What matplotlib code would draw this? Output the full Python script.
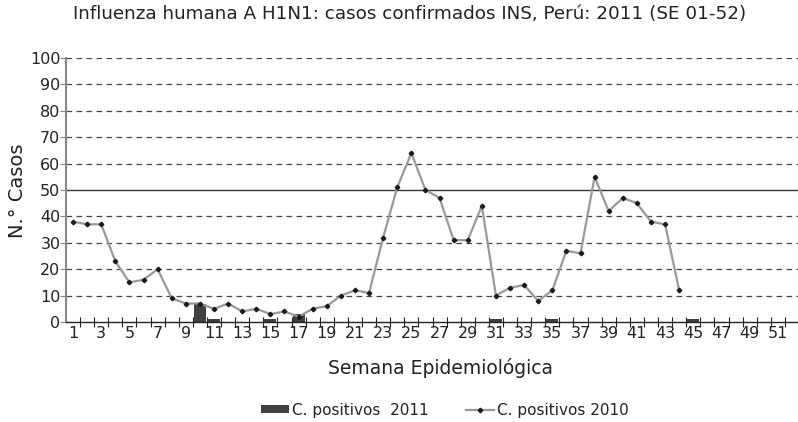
import matplotlib
matplotlib.use("Agg")
import matplotlib.pyplot as plt
import numpy as np

plt.rcParams['font.family'] = ['DejaVu Sans']

weeks = list(range(1, 53))
pos_2011 = [0, 0, 0, 0, 0, 0, 0, 0, 0, 7, 1, 0, 0, 0, 1, 0, 3, 0, 0, 0,
            0, 0, 0, 0, 0, 0, 0, 0, 0, 0, 1, 0, 0, 0, 1, 0, 0, 0, 0, 0,
            0, 0, 0, 0, 1, 0, 0, 0, 0, 0, 0, 0]
weeks_2010 = list(range(1, 45))
pos_2010 = [38, 37, 37, 23, 15, 16, 20, 9, 7, 7, 5, 7, 4, 5, 3, 4, 2, 5, 6, 10,
            12, 11, 32, 51, 64, 50, 47, 31, 31, 44, 10, 13, 14, 8, 12, 27, 26, 55, 42, 47,
            45, 38, 37, 12]
yticks = list(range(0, 101, 10))
xlabels = [str(w) for w in range(1, 52, 2)]

title = "Influenza humana A H1N1: casos confirmados INS, Perú: 2011 (SE 01-52)"
xlabel = "Semana Epidemiológica"
ylabel = "N.° Casos"

fig = plt.figure(figsize=(7.98, 4.22), dpi=100)
ax = fig.add_axes([66/798, 100/422, 733/798, 264/422])

# grid
for v in yticks[1:]:
    if v == 50:
        ax.axhline(v, color='#333333', lw=1.0, zorder=1)
    else:
        ax.axhline(v, color='#444444', lw=0.9, ls=(0, (4.5, 3.5)), zorder=1)

bars = ax.bar(weeks, pos_2011, width=0.85, color='#404040', zorder=2)
line, = ax.plot(weeks_2010, pos_2010, color='#999999', lw=1.6, marker='D', markersize=2.3,
                markerfacecolor='#1a1a1a', markeredgecolor='#1a1a1a', zorder=3)

ax.set_xlim(0.5, 52.5)
ax.set_ylim(0, 100)
ax.set_yticks(yticks)
ax.set_yticklabels([str(v) for v in yticks], fontsize=11.5, color='#222222')
ax.tick_params(axis='y', direction='out', length=4, width=0.8, color='#888888', pad=0)

ax.set_xticks(np.arange(1.5, 52, 1.0))
ax.set_xticklabels([])
ax.set_xticks(list(range(1, 52, 2)), minor=True)
ax.set_xticklabels(xlabels, minor=True, fontsize=11.5, color='#222222')
ax.tick_params(axis='x', which='major', direction='inout', length=7, width=0.8, color='#222222')
ax.tick_params(axis='x', which='minor', length=0, pad=3)

for s in ['top', 'right']:
    ax.spines[s].set_visible(False)
ax.spines['left'].set_color('#888888')
ax.spines['left'].set_linewidth(1.5)
ax.spines['bottom'].set_color('#222222')
ax.spines['bottom'].set_linewidth(1.0)
ax.spines['bottom'].set_zorder(4)

fig.text(410/798, 1 - 14/422, title, ha='center', va='center', fontsize=13.2, color='#222222')
fig.text(440/798, 1 - 368/422, xlabel, ha='center', va='center', fontsize=13.5, color='#222222')
fig.text(18/798, 1 - 191/422, ylabel, ha='center', va='center', rotation=90, fontsize=14, color='#222222')

leg = fig.legend([bars, line], ['C. positivos  2011', 'C. positivos 2010'],
                 loc='center', bbox_to_anchor=(445/798, 1 - 410/422), ncol=2, frameon=False,
                 fontsize=11, handlelength=1.85, handleheight=0.45, columnspacing=2.4,
                 handletextpad=0.2, borderpad=0, borderaxespad=0)
for t in leg.get_texts():
    t.set_color('#222222')

fig.savefig('out.png', dpi=100)
